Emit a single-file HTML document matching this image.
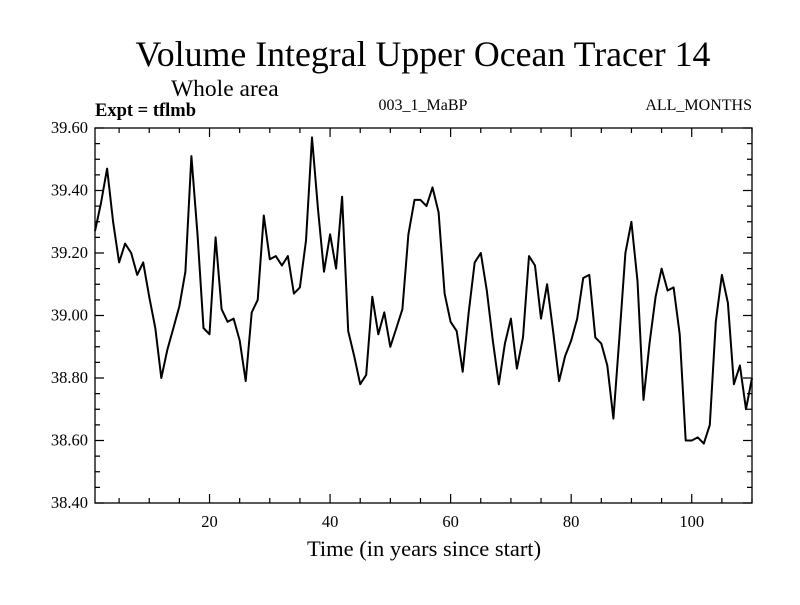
<!DOCTYPE html>
<html><head><meta charset="utf-8"><style>
body{margin:0;background:#fff}
svg text{font-family:"Liberation Serif",serif;fill:#000}
</style></head><body>
<svg width="800" height="600" xmlns="http://www.w3.org/2000/svg">
<text x="423" y="66" font-size="35.8" text-anchor="middle">Volume Integral Upper Ocean Tracer 14</text>
<text x="171" y="96" font-size="23.5">Whole area</text>
<text x="95" y="116" font-size="18.5" font-weight="bold">Expt = tflmb</text>
<text x="423" y="110" font-size="16" text-anchor="middle">003_1_MaBP</text>
<text x="752" y="110" font-size="16" text-anchor="end">ALL_MONTHS</text>
<text x="424" y="556" font-size="22.5" text-anchor="middle">Time (in years since start)</text>
<g id="axes"></g>
<rect x="95" y="128" width="657" height="375" fill="none" stroke="#000" stroke-width="1.3"/>
<path id="line" fill="none" stroke="#000" stroke-width="2" stroke-linejoin="round"/>
</svg>
<script>
const values=[39.27,39.36,39.47,39.30,39.17,39.23,39.20,39.13,39.17,39.06,38.96,38.80,38.89,38.96,39.03,39.14,39.51,39.26,38.96,38.94,39.25,39.02,38.98,38.99,38.92,38.79,39.01,39.05,39.32,39.18,39.19,39.16,39.19,39.07,39.09,39.24,39.57,39.34,39.14,39.26,39.15,39.38,38.95,38.87,38.78,38.81,39.06,38.94,39.01,38.90,38.96,39.02,39.26,39.37,39.37,39.35,39.41,39.33,39.07,38.98,38.95,38.82,39.01,39.17,39.20,39.08,38.92,38.78,38.91,38.99,38.83,38.93,39.19,39.16,38.99,39.10,38.95,38.79,38.87,38.92,38.99,39.12,39.13,38.93,38.91,38.84,38.67,38.93,39.20,39.30,39.11,38.73,38.91,39.06,39.15,39.08,39.09,38.94,38.60,38.60,38.61,38.59,38.65,38.98,39.13,39.04,38.78,38.84,38.70,38.80];
const yTicks=[38.40,38.60,38.80,39.00,39.20,39.40,39.60];
const xTicks=[20,40,60,80,100];
const L=95,R=752,T=128,B=503,xmin=1,xmax=values.length,ymin=38.4,ymax=39.6;
const sx=v=>L+(v-xmin)/(xmax-xmin)*(R-L);
const sy=v=>B-(v-ymin)/(ymax-ymin)*(B-T);
const NS="http://www.w3.org/2000/svg";
const ax=document.getElementById('axes');
function mk(tag,attrs){const e=document.createElementNS(NS,tag);for(const k in attrs)e.setAttribute(k,attrs[k]);ax.appendChild(e);return e;}
let d="";
for(let v=38.4;v<=39.6001;v+=0.05){const y=sy(v);const maj=Math.abs(Math.round(v*5)-v*5)<1e-6;const len=maj?9:5;
d+=`M${L},${y}h${len}M${R},${y}h${-len}`;}
for(let v=5;v<=110;v+=5){const x=sx(v);const maj=v%20===0;const len=maj?9:5;
d+=`M${x},${B}v${-len}M${x},${T}v${len}`;}
const tk=mk('path',{d:d,stroke:'#000','stroke-width':1.2,fill:'none'});


yTicks.forEach(v=>{const t=mk('text',{x:88,y:sy(v)+5,'font-size':16.5,'text-anchor':'end'});t.textContent=v.toFixed(2);

});
xTicks.forEach(v=>{const t=mk('text',{x:sx(v),y:527,'font-size':16.5,'text-anchor':'middle'});t.textContent=v;

});
document.getElementById('line').setAttribute('d',values.map((v,i)=>(i?'L':'M')+sx(i+1).toFixed(1)+','+sy(v).toFixed(1)).join(''));
</script>
</body></html>
